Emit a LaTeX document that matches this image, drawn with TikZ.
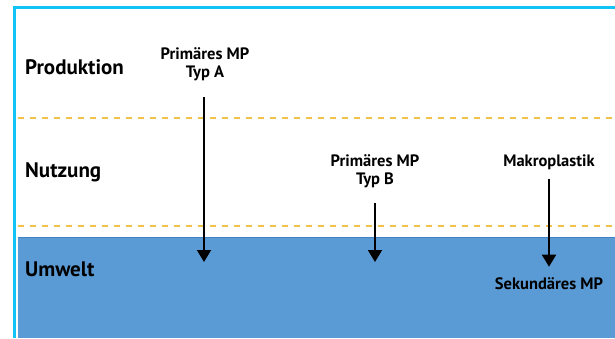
\documentclass[tikz,border=0pt]{standalone}
\usepackage{fontspec}
\setmainfont{PT Sans}
\usetikzlibrary{arrows.meta}
\definecolor{frameblue}{HTML}{12C3F6}
\definecolor{envblue}{HTML}{5B9BD5}
\definecolor{envedge}{HTML}{3F82C6}
\definecolor{layerdash}{HTML}{EFC24A}
\tikzset{
  stage/.style={anchor=west, font=\bfseries\fontsize{21}{23}\selectfont, inner sep=0pt},
  item/.style={align=center, font=\bfseries\fontsize{16.5}{18}\selectfont, inner sep=0pt},
  flow/.style={line width=1.8pt, -{Triangle[width=14pt,length=12pt]}},
  layerline/.style={layerdash, line width=1.8pt, dash pattern=on 6pt off 6pt},
}
\begin{document}
\begin{tikzpicture}[x=1pt, y=-1pt]
\useasboundingbox (0,0) rectangle (615,338);
% environment layer
\fill[envblue] (18,237) rectangle (615,338);
\draw[envedge, line width=1pt] (18,237.5) -- (615,237.5);
% outer frame
\draw[frameblue, line width=2.5pt] (14.5,338) -- (14.5,7.5) -- (615,7.5);
% layer separators
\draw[layerline] (18,118) -- (615,118);
\draw[layerline] (18,226) -- (615,226);
% stage names
\node[stage] (prod) at (25,67) {Produktion};
\node[stage] (nutz) at (25,172) {Nutzung};
\node[stage] (umw) at (25,269) {Umwelt};
% sources
\node[item] (typA) at (205,64) {Primäres MP\\Typ A};
\node[item] (typB) at (375,171) {Primäres MP\\Typ B};
\node[item] (makro) at (549,162) {Makroplastik};
\node[item] (sek) at (549,284) {Sekundäres MP};
% flow ends
\coordinate (aStart) at (204,97);
\coordinate (aEnd) at (204,262);
\coordinate (bStart) at (375,203);
\coordinate (bEnd) at (375,262);
\draw[flow] (aStart) -- (aEnd);
\draw[flow] (bStart) -- (bEnd);
\draw[flow, shorten <=9pt, shorten >=11pt] (makro.south -| sek.north) -- (sek.north);
\end{tikzpicture}
\end{document}
